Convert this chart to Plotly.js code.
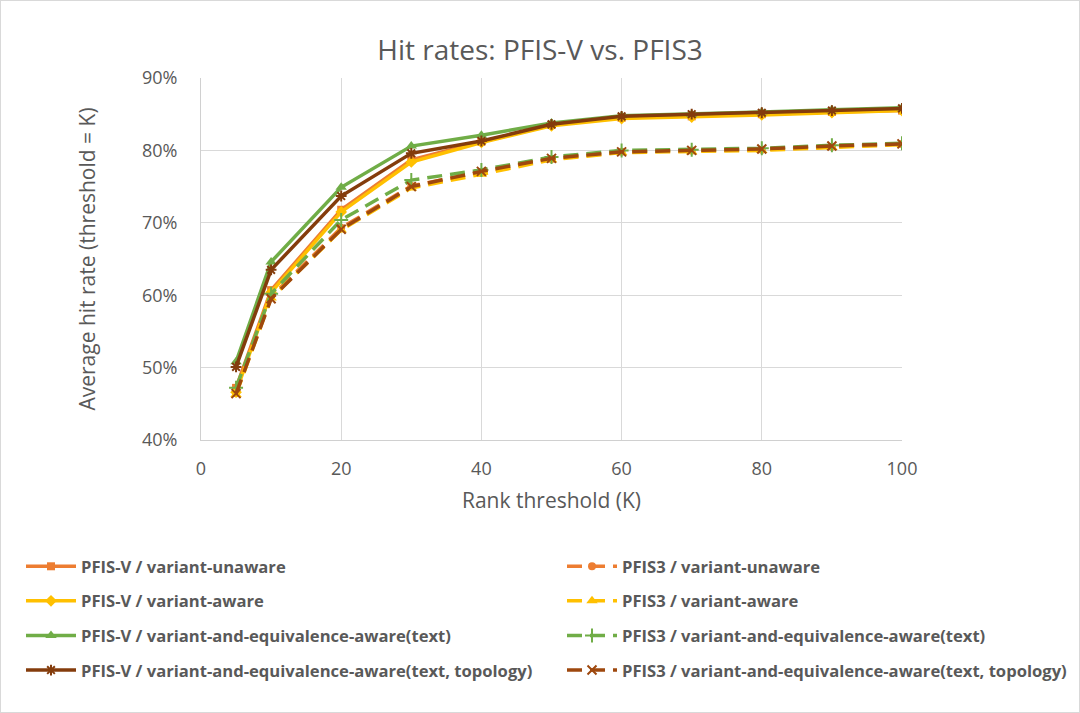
<!DOCTYPE html>
<html>
<head>
<meta charset="utf-8">
<script src="https://cdn.plot.ly/plotly-3.0.1.min.js"></script>
<style>
  html, body { margin: 0; padding: 0; background: #fff; }
  #wrap { position: relative; width: 1080px; height: 713px; }
  #chart { width: 1080px; height: 713px; }
  #frame { position: absolute; left: 0; top: 0; width: 1080px; height: 713px; box-sizing: border-box; border: 1px solid #d9d9d9; pointer-events: none; }
</style>
</head>
<body>
<div id="wrap"><div id="chart"></div><div id="frame"></div></div>
<script>
// Rank threshold K
const rankK = [5, 10, 20, 30, 40, 50, 60, 70, 80, 90, 100];

// Average hit rate (%) per series
const pfisvUnaware  = [47.2, 60.7, 71.8, 78.7, 81.2, 83.5, 84.5, 84.7, 85.0, 85.3, 85.5];
const pfisvAware    = [46.6, 60.4, 71.5, 78.4, 81.1, 83.4, 84.4, 84.6, 84.9, 85.2, 85.5];
const pfisvText     = [50.8, 64.6, 74.9, 80.6, 82.1, 83.8, 84.8, 85.0, 85.3, 85.6, 85.9];
const pfisvTopo     = [50.1, 63.5, 73.7, 79.6, 81.3, 83.6, 84.7, 85.0, 85.2, 85.5, 85.8];
const pfis3Unaware  = [46.5, 59.8, 69.3, 75.1, 77.0, 78.8, 79.8, 80.0, 80.1, 80.5, 80.9];
const pfis3Aware    = [46.3, 59.6, 69.0, 74.8, 76.7, 78.7, 79.7, 79.8, 80.0, 80.4, 80.8];
const pfis3Text     = [47.2, 60.2, 70.4, 75.9, 77.3, 79.1, 80.0, 80.1, 80.3, 80.7, 81.0];
const pfis3Topo     = [46.4, 59.5, 69.1, 75.0, 77.1, 78.9, 79.8, 80.0, 80.2, 80.6, 80.9];

const seriesNames = [
  "PFIS-V / variant-unaware", "PFIS3 / variant-unaware",
  "PFIS-V / variant-aware", "PFIS3 / variant-aware",
  "PFIS-V / variant-and-equivalence-aware(text)", "PFIS3 / variant-and-equivalence-aware(text)",
  "PFIS-V / variant-and-equivalence-aware(text, topology)", "PFIS3 / variant-and-equivalence-aware(text, topology)"
];
const seriesValues = [pfisvUnaware, pfis3Unaware, pfisvAware, pfis3Aware, pfisvText, pfis3Text, pfisvTopo, pfis3Topo];

const colors  = ["#ED7D31", "#ED7D31", "#FFC000", "#FFC000", "#70AD47", "#70AD47", "#843C0C", "#9E480E"];
const symbols = ["square", "circle", "diamond", "triangle-up", "triangle-up", "cross-thin-open", "asterisk-open", "x-thin-open"];
const sizes   = [8, 8, 9, 10, 10, 10, 9, 9];
const dashed  = [false, true, false, true, false, true, false, true];

const traces = seriesValues.map((vals, i) => {
  const open = symbols[i].endsWith("-open");
  return {
    type: "scatter",
    mode: "lines+markers",
    x: rankK,
    y: vals.map(v => v / 100),
    name: seriesNames[i],
    legend: dashed[i] ? "legend2" : "legend",
    legendgroup: "g" + i,
    line: { color: colors[i], width: 3.5, dash: dashed[i] ? "15px,8px" : "solid" },
    marker: {
      symbol: symbols[i],
      size: sizes[i],
      color: colors[i],
      line: { color: colors[i], width: open ? 2 : 0 }
    },
    hoverinfo: "x+y+name"
  };
});

const txt = "#595959";
const font = "'Open Sans', 'DejaVu Sans', sans-serif";

// plot area in pixels: x 201..902, y 78..440
const legendCommon = {
  xref: "paper", yref: "paper",
  yanchor: "top", xanchor: "left",
  orientation: "v",
  traceorder: "grouped",
  tracegroupgap: 10,
  itemwidth: 50,
  font: { family: font, size: 16.6, color: txt, weight: "bold" },
  bgcolor: "rgba(0,0,0,0)",
  borderwidth: 0
};

const layout = {
  width: 1080,
  height: 713,
  paper_bgcolor: "#ffffff",
  plot_bgcolor: "#ffffff",
  margin: { l: 201, r: 178, t: 78, b: 273, pad: 0, autoexpand: false },
  font: { family: font, color: txt },
  title: {
    text: "Hit rates: PFIS-V vs. PFIS3",
    font: { family: font, size: 28, color: txt },
    xref: "container", x: 0.5, xanchor: "center",
    yref: "container", y: 1 - 50 / 713, yanchor: "middle"
  },
  xaxis: {
    range: [0, 100],
    dtick: 20,
    tick0: 0,
    showgrid: true,
    gridcolor: "#d9d9d9",
    gridwidth: 1,
    zeroline: false,
    showline: true,
    linecolor: "#d0d0d0",
    linewidth: 1,
    ticks: "",
    ticklabelstandoff: 12,
    tickfont: { family: font, size: 18, color: txt },
    title: { text: "Rank threshold (K)", font: { family: font, size: 21, color: txt }, standoff: 14 },
    automargin: false,
    fixedrange: true
  },
  yaxis: {
    range: [0.4, 0.9],
    dtick: 0.1,
    tick0: 0.4,
    tickformat: ".0%",
    showgrid: true,
    gridcolor: "#d9d9d9",
    gridwidth: 1,
    zeroline: false,
    showline: true,
    linecolor: "#d0d0d0",
    linewidth: 1,
    ticks: "",
    ticklabelstandoff: 19,
    tickfont: { family: font, size: 18, color: txt },
    title: { text: "Average hit rate (threshold = K)", font: { family: font, size: 21, color: txt }, standoff: 40 },
    automargin: false,
    fixedrange: true
  },
  legend: Object.assign({}, legendCommon, { x: (21 - 201) / 701, y: (440 - 549) / 362 }),
  legend2: Object.assign({}, legendCommon, { x: (562 - 201) / 701, y: (440 - 549) / 362 }),
  showlegend: true
};

Plotly.newPlot("chart", traces, layout, { displayModeBar: false, responsive: false });
</script>
</body>
</html>
